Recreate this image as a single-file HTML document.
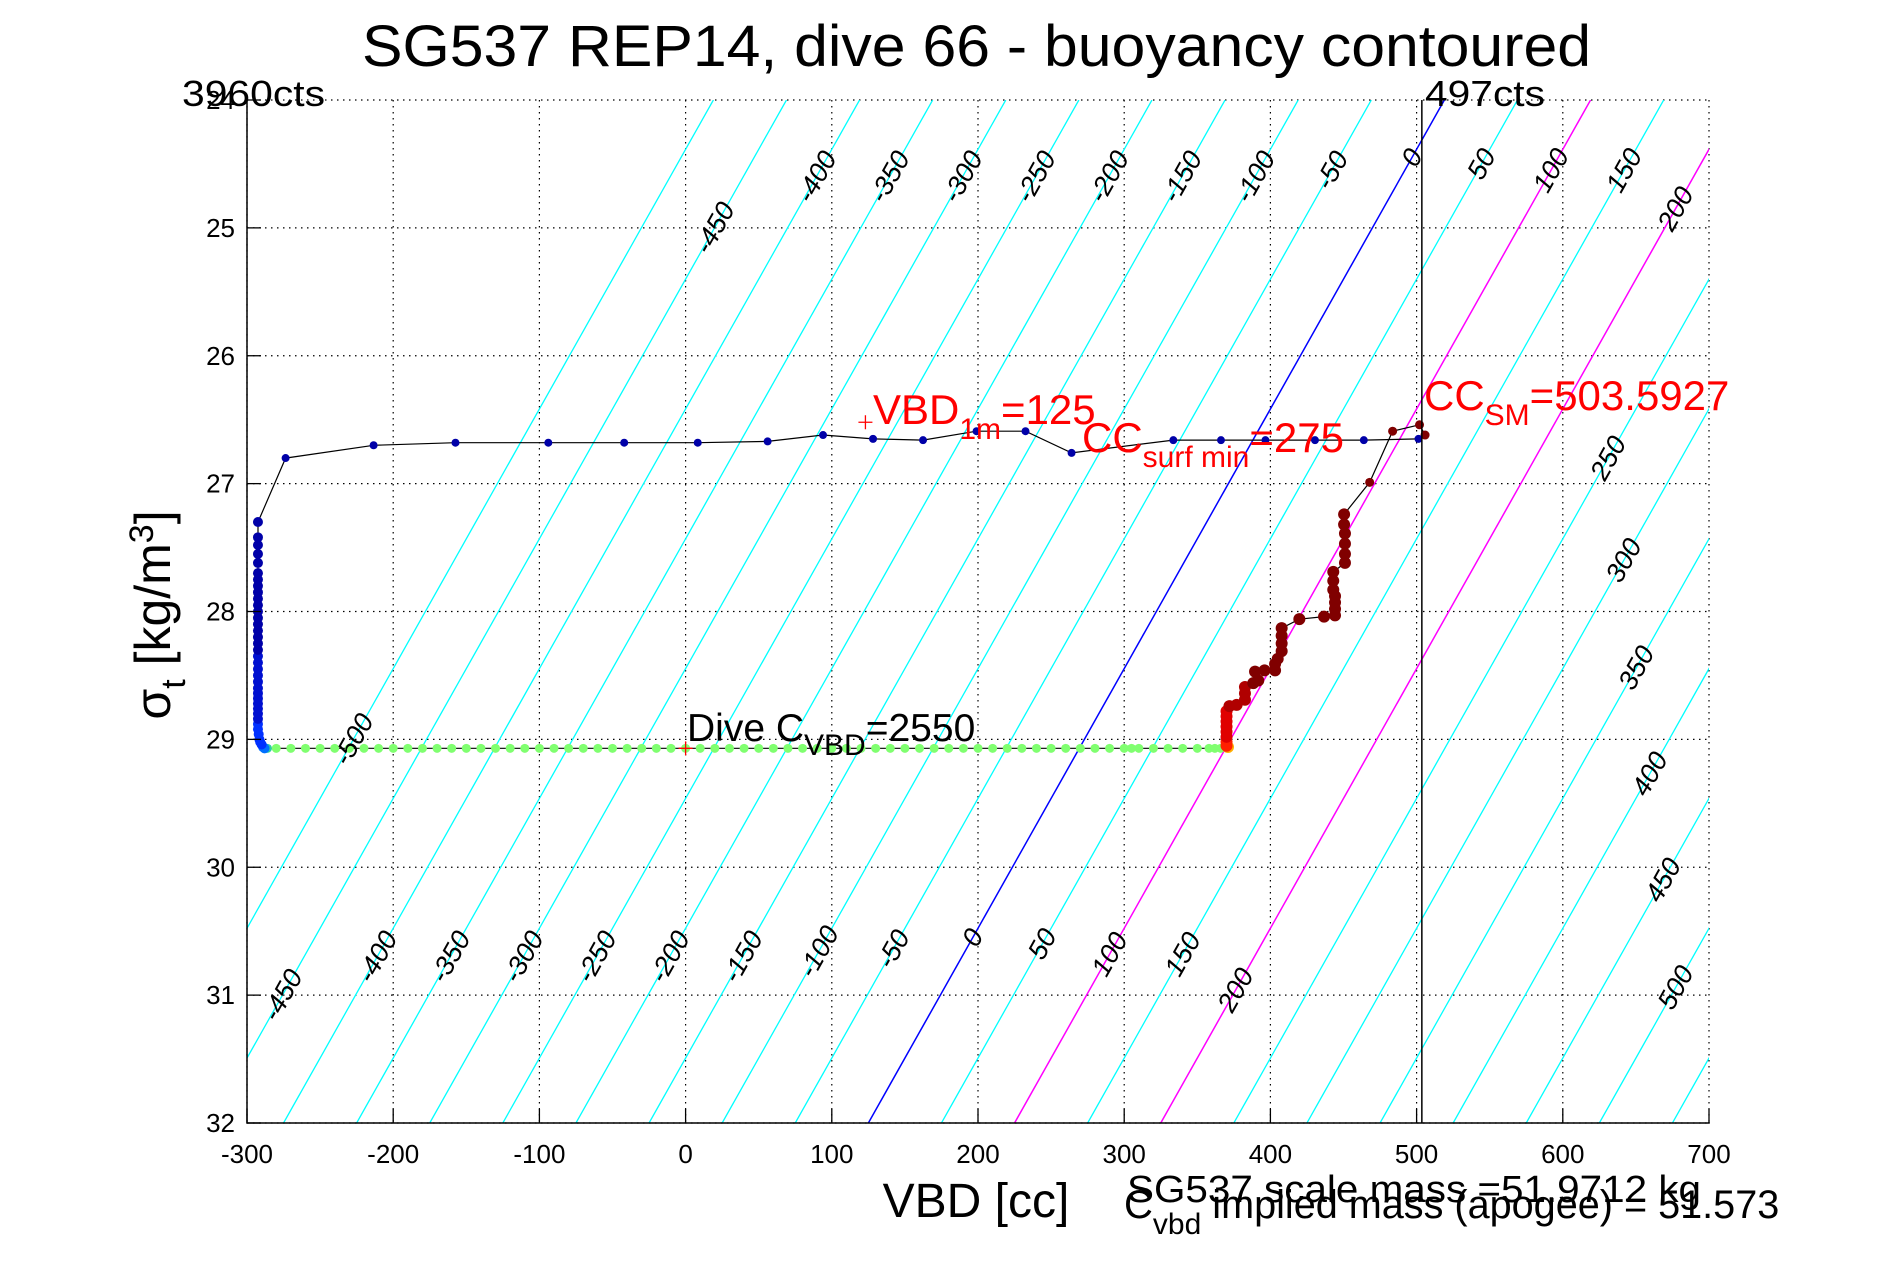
<!DOCTYPE html>
<html><head><meta charset="utf-8">
<style>
html,body{margin:0;padding:0;background:#fff;}
svg{display:block;font-family:"Liberation Sans",sans-serif;}
</style></head>
<body>
<svg id="chart" xmlns="http://www.w3.org/2000/svg" width="1891" height="1262" viewBox="0 0 1891 1262">
<rect x="0" y="0" width="1891" height="1262" fill="#fff"/>
<g id="grid"></g>
<g id="contours"></g>
<g id="series"></g>
<g id="axes"></g>
<g id="annot"></g>
</svg>
<script>
// ---- data ----
const xTicks = [-300,-200,-100,0,100,200,300,400,500,600,700];
const yTicks = [24,25,26,27,28,29,30,31,32];
const contourValues = [-500,-450,-400,-350,-300,-250,-200,-150,-100,-50,0,50,100,150,200,250,300,350,400,450,500,550];
const contourBottomVbd = 125;   // b=0 contour vbd at sigma 32
const contourTopVbd = 519;      // b=0 contour vbd at sigma 24
const topLabelVals = [-450,-400,-350,-300,-250,-200,-150,-100,-50,0,50,100,150,200];
const topLabelSigma = [25.0,24.6,24.6,24.6,24.6,24.6,24.6,24.6,24.55,24.45,24.5,24.55,24.55,24.85];
const rightLabelVals = [250,300,350,400,450,500];
const rightLabelSigma = [26.8,27.6,28.44,29.27,30.1,30.94];
const botLabelVals = [-450,-400,-350,-300,-250,-200,-150,-100,-50,0,50,100,150,200];
const botLabelSigma = [31.0,30.7,30.7,30.7,30.7,30.7,30.7,30.66,30.64,30.55,30.6,30.68,30.68,30.96];
const midLabelVals = [-500];
const midLabelSigma = [29.0];

const climbVbd = [-288,-289,-290,-291,-291.5,-292,-292.5,-292.5,-292.5,-292.5,-292.5,-292.5,-292.5,-292.5,-292.5,-292.5,-292.5,-292.5,-292.5,-292.5,-292.5,-292.5,-292.5,-292.5,-292.5,-292.5,-292.5,-292.5,-292.5,-292.5,-292.5,-292.5,-292.5,-292.5,-292.5,-292.5,-292.5,-292.5,-273.6,-213.4,-157.4,-93.9,-42,8.3,56.1,94,128.2,162.4,199,232.5,264,333.6,366.2,396.6,430.5,463.9,501.3];
const climbSigma = [29.07,29.06,29.04,29.02,29.0,28.96,28.92,28.88,28.84,28.8,28.76,28.72,28.68,28.64,28.6,28.55,28.5,28.45,28.4,28.35,28.3,28.25,28.2,28.15,28.1,28.05,28.0,27.95,27.9,27.85,27.8,27.75,27.7,27.62,27.55,27.48,27.42,27.3,26.8,26.7,26.68,26.68,26.68,26.68,26.67,26.62,26.65,26.66,26.59,26.59,26.76,26.66,26.66,26.66,26.66,26.66,26.65];

const diveVbd = [-286,-280,-270,-260,-250,-240,-230,-220,-210,-200,-190,-180,-170,-160,-150,-140,-130,-120,-110,-100,-90,-80,-70,-60,-50,-40,-30,-20,-10,0,10,20,30,40,50,60,70,80,90,100,110,120,130,140,150,160,170,180,190,200,210,220,230,240,250,260,270,280,290,300,305,310,320,330,340,350,358,362,366];
const diveSigma = [29.07,29.07,29.07,29.07,29.07,29.07,29.07,29.07,29.07,29.07,29.07,29.07,29.07,29.07,29.07,29.07,29.07,29.07,29.07,29.07,29.07,29.07,29.07,29.07,29.07,29.07,29.07,29.07,29.07,29.07,29.07,29.07,29.07,29.07,29.07,29.07,29.07,29.07,29.07,29.07,29.07,29.07,29.07,29.07,29.07,29.07,29.07,29.07,29.07,29.07,29.07,29.07,29.07,29.07,29.07,29.07,29.07,29.07,29.07,29.07,29.07,29.07,29.07,29.07,29.07,29.07,29.07,29.07,29.07];

const apoVbd = [371,370,370,370,370,370,370,370,370,372,376.9,382.6,382.6,382.6,388.3,391.7,389.5,396,403.2,403.2,405,407.7,407.7,407.7,407.7,419.8,436.7,444.2,444.2,444.2,444.2,443,443,443,451,451,451,451,450.4,450.4,467.9,483.6,502,505.8];
const apoSigma = [29.06,29.05,29.02,28.98,28.94,28.9,28.86,28.82,28.78,28.74,28.73,28.69,28.64,28.59,28.56,28.54,28.47,28.46,28.46,28.41,28.37,28.31,28.25,28.19,28.13,28.06,28.04,28.03,27.98,27.93,27.88,27.83,27.76,27.69,27.62,27.55,27.47,27.39,27.32,27.24,26.99,26.59,26.54,26.62];

const magentaContours = [100,200];
const ccSM = 503.5927;
const plusVbd = [123,0];
const plusSigma = [26.52,29.07];

// ---- scales ----
const X0=247, X1=1709, Y0=100, Y1=1123;
function xs(v){return X0+(v+300)/1000*(X1-X0);}
function ys(s){return Y0+(s-24)/8*(Y1-Y0);}
function contourVbd(b,s){return contourBottomVbd + b + (32-s)/8*(contourTopVbd-contourBottomVbd);}
const NS="http://www.w3.org/2000/svg";
function mk(tag,attrs,parent){const e=document.createElementNS(NS,tag);for(const k in attrs)e.setAttribute(k,attrs[k]);parent.appendChild(e);return e;}

const grid=document.getElementById('grid');
xTicks.forEach(t=>{
  const l=mk('line',{x1:xs(t),x2:xs(t),y1:Y0,y2:Y1,stroke:'#000','stroke-width':1.2,'stroke-dasharray':'1.5,4.5'},grid);
  
  
});
yTicks.forEach(t=>{
  const l=mk('line',{x1:X0,x2:X1,y1:ys(t),y2:ys(t),stroke:'#000','stroke-width':1.2,'stroke-dasharray':'1.5,4.5'},grid);
  
  
});

const cg=document.getElementById('contours');
const defs=mk('defs',{},document.getElementById('chart'));
const cp=mk('clipPath',{id:'plotclip'},defs);
mk('rect',{x:X0,y:Y0,width:X1-X0,height:Y1-Y0},cp);
cg.setAttribute('clip-path','url(#plotclip)');
contourValues.forEach(b=>{
  let col='#00ffff', w=1.3;
  if(b===0){col='#0000ff';w=1.5;}
  if(magentaContours.includes(b)){col='#ff00ff';w=1.5;}
  const l=mk('line',{x1:xs(contourVbd(b,32)),y1:ys(32),x2:xs(contourVbd(b,24)),y2:ys(24),stroke:col,'stroke-width':w},cg);
  
  
});
const ang = -Math.atan2(ys(24)-ys(32), xs(contourVbd(0,24))-xs(contourVbd(0,32)))*180/Math.PI;
function contourLabels(vals,sig){
  vals.forEach((b,i)=>{
    const s=sig[i], x=xs(contourVbd(b,s)), y=ys(s);
    const t=mk('text',{x:x,y:y,'font-size':27,'font-style':'italic','text-anchor':'middle','dominant-baseline':'central',fill:'#000',transform:`rotate(${-ang} ${x} ${y})`},document.getElementById('annot'));
    t.textContent=String(b);
    
    
  });
}
contourLabels(topLabelVals,topLabelSigma);
contourLabels(rightLabelVals,rightLabelSigma);
contourLabels(botLabelVals,botLabelSigma);
contourLabels(midLabelVals,midLabelSigma);

const sg=document.getElementById('series');
function pathOf(vx,vy){return vx.map((v,i)=>(i?'L':'M')+xs(v).toFixed(1)+','+ys(vy[i]).toFixed(1)).join(' ');}
const pl1=mk('path',{d:pathOf(climbVbd,climbSigma),fill:'none',stroke:'#000','stroke-width':1.2},sg);


const pl2=mk('path',{d:pathOf(diveVbd,diveSigma),fill:'none',stroke:'#000','stroke-width':1.2},sg);


const pl3=mk('path',{d:pathOf(apoVbd,apoSigma),fill:'none',stroke:'#000','stroke-width':1.2},sg);



diveVbd.forEach((v,i)=>{
  const c=mk('circle',{cx:xs(v),cy:ys(diveSigma[i]),r:4.5,fill:i===0?'#30d0a0':'#80ff70'},sg);
  
  
});
apoVbd.forEach((v,i)=>{
  let col;
  if(i===0) col='#ffb000'; else if(i<3) col='#ff2000'; else if(i<9) col='#e00000'; else if(i<14) col='#b00000'; else col='#800000';
  const c=mk('circle',{cx:xs(v),cy:ys(apoSigma[i]),r:i<40?6:4.5,fill:col},sg);
  
  
});
climbVbd.forEach((v,i)=>{
  let col;
  if(i<2) col='#0070ff'; else if(i<8) col='#0030ff'; else if(i<20) col='#0010d0'; else col='#0000a8';
  const c=mk('circle',{cx:xs(v),cy:ys(climbSigma[i]),r:i<38?5:4,fill:col},sg);
  
  
});
plusVbd.forEach((v,i)=>{
  const x=xs(v),y=ys(plusSigma[i]);
  const p=mk('path',{d:`M${x-7},${y}H${x+7}M${x},${y-7}V${y+7}`,stroke:'#ff0000','stroke-width':1.3},sg);
  
  
});
const smLine=mk('line',{x1:xs(ccSM),x2:xs(ccSM),y1:Y0,y2:Y1,stroke:'#000','stroke-width':1.5},sg);



const ax=document.getElementById('axes');
const fr=mk('path',{d:`M${X0},${Y0}V${Y1}H${X1}V${Y1-1}`,fill:'none',stroke:'#000','stroke-width':1.5},ax);


xTicks.forEach(t=>{
  const l=mk('line',{x1:xs(t),x2:xs(t),y1:Y1,y2:Y1-14,stroke:'#000','stroke-width':1.3},ax);
  
  
  const tx=mk('text',{x:xs(t),y:1163,'font-size':26,'text-anchor':'middle',fill:'#000'},ax);
  tx.textContent=String(t);
  
  
});
yTicks.forEach(t=>{
  const l=mk('line',{x1:X0,x2:X0+14,y1:ys(t),y2:ys(t),stroke:'#000','stroke-width':1.3},ax);
  
  
  const tx=mk('text',{x:X0-12,y:ys(t)+9,'font-size':26,'text-anchor':'end',fill:'#000'},ax);
  tx.textContent=String(t);
  
  
});
</script>
<svg style="position:absolute;left:0;top:0" width="1891" height="1262">
<text x="362" y="66" font-size="58" textLength="1229" lengthAdjust="spacingAndGlyphs" font-family="Liberation Sans, sans-serif">SG537 REP14, dive 66 - buoyancy contoured</text>
<text x="182" y="106" font-size="36" textLength="143" lengthAdjust="spacingAndGlyphs" font-family="Liberation Sans, sans-serif">3960cts</text>
<text x="1425" y="106" font-size="36" textLength="120" lengthAdjust="spacingAndGlyphs" font-family="Liberation Sans, sans-serif">497cts</text>
<text x="873" y="424" font-size="42" fill="#ff0000" font-family="Liberation Sans, sans-serif">VBD<tspan font-size="30" dy="15">1m</tspan><tspan dy="-15">=125</tspan></text>
<text x="1082" y="452" font-size="42" fill="#ff0000" font-family="Liberation Sans, sans-serif">CC<tspan font-size="30" dy="15">surf min</tspan><tspan dy="-15">=275</tspan></text>
<text x="1424" y="410" font-size="42" fill="#ff0000" font-family="Liberation Sans, sans-serif">CC<tspan font-size="30" dy="15">SM</tspan><tspan dy="-15">=503.5927</tspan></text>
<text x="687" y="741" font-size="39" fill="#000" font-family="Liberation Sans, sans-serif">Dive C<tspan font-size="30" dy="14">VBD</tspan><tspan dy="-14">=2550</tspan></text>
<text x="976" y="1217" font-size="48" text-anchor="middle" font-family="Liberation Sans, sans-serif">VBD [cc]</text>
<text transform="translate(170,615) rotate(-90)" font-size="50" text-anchor="middle" font-family="Liberation Sans, sans-serif">σ<tspan font-size="34" dy="15">t</tspan><tspan dy="-15"> [kg/m</tspan><tspan font-size="34" dy="-17">3</tspan><tspan dy="17">]</tspan></text>
<text x="1127" y="1202" font-size="38" textLength="574" lengthAdjust="spacingAndGlyphs" font-family="Liberation Sans, sans-serif">SG537 scale mass =51.9712 kg</text>
<text x="1124" y="1218" font-size="40" font-family="Liberation Sans, sans-serif">C<tspan font-size="30" dy="16">vbd</tspan><tspan dy="-16" textLength="578" lengthAdjust="spacingAndGlyphs"> implied mass (apogee) = 51.573</tspan></text>
</svg>
</body></html>
